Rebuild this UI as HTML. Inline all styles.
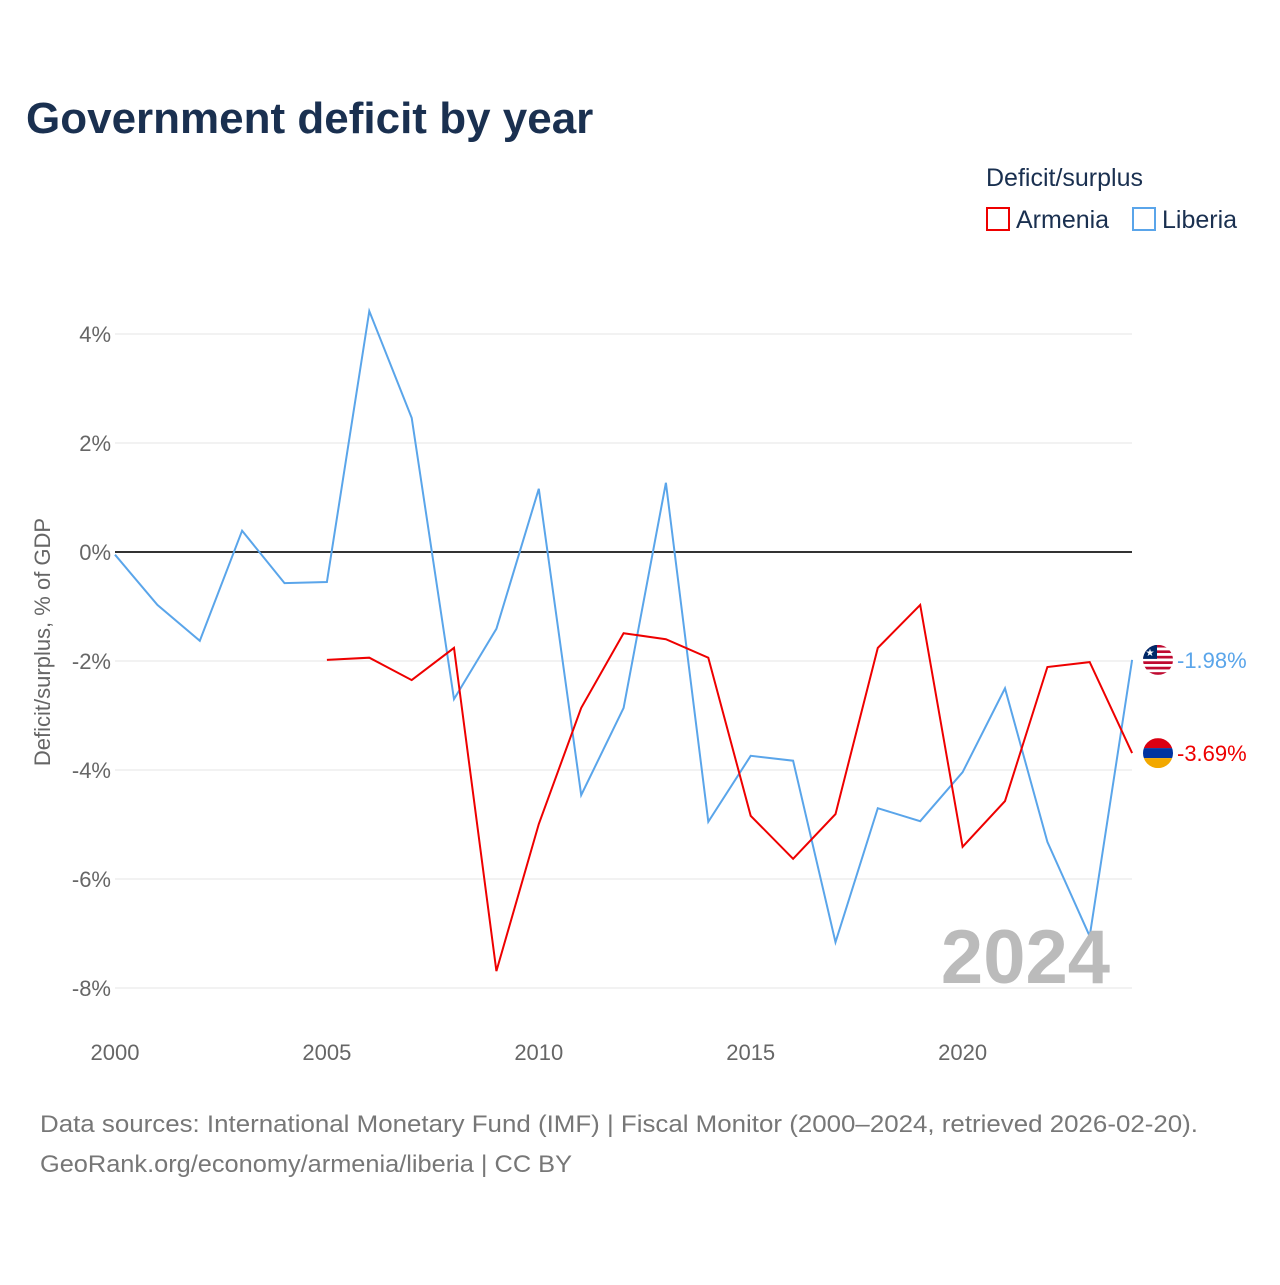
<!DOCTYPE html>
<html><head><meta charset="utf-8"><style>
body{margin:0;background:#fff;font-family:"Liberation Sans",sans-serif;}
svg text{font-family:"Liberation Sans",sans-serif;}
</style></head><body>
<svg width="1280" height="1280">
<text x="26" y="133" font-size="44" font-weight="bold" fill="#1a3050">Government deficit by year</text>
<text x="986" y="186" font-size="25" fill="#1a3050">Deficit/surplus</text>
<g><rect x="987" y="208" width="22" height="22" fill="none" stroke="#e00" stroke-width="2"/><text x="1016" y="228" font-size="25" fill="#1a3050">Armenia</text></g>
<g><rect x="1133" y="208" width="22" height="22" fill="none" stroke="#5aa5ea" stroke-width="2"/><text x="1162" y="228" font-size="25" fill="#1a3050">Liberia</text></g>
<text transform="translate(50,642) rotate(-90)" text-anchor="middle" font-size="22" fill="#666">Deficit/surplus, % of GDP</text>
<g id="grid"></g><g id="lines"></g>
<text x="1110" y="983" text-anchor="end" font-size="76" font-weight="bold" fill="#bbb">2024</text>
<text x="40" y="1132" font-size="24" fill="#777" textLength="1158" lengthAdjust="spacingAndGlyphs">Data sources: International Monetary Fund (IMF) | Fiscal Monitor (2000–2024, retrieved 2026-02-20).</text>
<text x="40" y="1172" font-size="24" fill="#777" textLength="532" lengthAdjust="spacingAndGlyphs">GeoRank.org/economy/armenia/liberia | CC BY</text>
</svg>
<script>
const years=[2000,2001,2002,2003,2004,2005,2006,2007,2008,2009,2010,2011,2012,2013,2014,2015,2016,2017,2018,2019,2020,2021,2022,2023,2024];
const liberia=[-0.05,-0.97,-1.63,0.39,-0.57,-0.55,4.42,2.46,-2.70,-1.41,1.16,-4.46,-2.86,1.27,-4.95,-3.74,-3.83,-7.16,-4.70,-4.94,-4.04,-2.50,-5.32,-7.05,-1.98];
const armenia=[null,null,null,null,null,-1.98,-1.94,-2.35,-1.76,-7.69,-4.99,-2.86,-1.49,-1.60,-1.94,-4.84,-5.63,-4.81,-1.76,-0.97,-5.41,-4.57,-2.11,-2.02,-3.69];
const yTicks=[4,2,0,-2,-4,-6,-8];
const xTicks=[2000,2005,2010,2015,2020];
const ns="http://www.w3.org/2000/svg";
const X=y=>115+(y-2000)*42.38, Y=v=>552-v*54.5;
const g=document.getElementById('grid'), L=document.getElementById('lines');
function mk(tag,a,p){const e=document.createElementNS(ns,tag);for(const k in a)e.setAttribute(k,a[k]);p.appendChild(e);return e;}
yTicks.forEach(t=>{
 const l=mk('line',{x1:115,x2:1132,y1:Y(t),y2:Y(t),stroke:t===0?'#333':'#e6e6e6','stroke-width':t===0?2:1},g);
 
 
 const tx=mk('text',{x:111,y:Y(t)+8,'text-anchor':'end','font-size':22,fill:'#666'},g);tx.textContent=t+'%';
 
 
});
xTicks.forEach(t=>{
 const tx=mk('text',{x:X(t),y:1060,'text-anchor':'middle','font-size':22,fill:'#666'},g);tx.textContent=t;
 
 
});
function line(vals,col,name){
 const pts=[];vals.forEach((v,i)=>{if(v!==null)pts.push(X(years[i]).toFixed(1)+','+Y(v).toFixed(1));});
 const p=mk('polyline',{points:pts.join(' '),fill:'none',stroke:col,'stroke-width':2},L);
 
 
}
line(liberia,'#5aa5ea','liberia-line');
line(armenia,'#e00','armenia-line');
function endLabel(v,col,name,flag){
 const cx=1158,cy=Y(v);
 const c=mk('g',{},L);
 
 
 const id='clip'+name;const cp=mk('clipPath',{id:id},c);mk('circle',{cx:cx,cy:cy,r:15},cp);
 const gg=mk('g',{'clip-path':'url(#'+id+')'},c);
 if(flag==='am'){['#d90012','#0033a0','#f2a800'].forEach((f,i)=>mk('rect',{x:cx-15,y:cy-15+i*10,width:30,height:10,fill:f},gg));}
 else{for(let i=0;i<11;i++)mk('rect',{x:cx-15,y:cy-15+i*30/11,width:30,height:30/11,fill:i%2?'#fff':'#bf0a30'},gg);
  mk('rect',{x:cx-15,y:cy-15,width:14,height:14,fill:'#002868'},gg);
  const s=mk('text',{x:cx-8,y:cy-4,'text-anchor':'middle','font-size':10,fill:'#fff'},gg);s.textContent='★';}
 const t=mk('text',{x:1177,y:cy+8,'font-size':22,fill:col},L);t.textContent=v.toFixed(2)+'%';
 
 
}
endLabel(liberia[liberia.length-1],'#5aa5ea','liberia','lr');
endLabel(armenia[armenia.length-1],'#e00','armenia','am');
</script>
</body></html>
